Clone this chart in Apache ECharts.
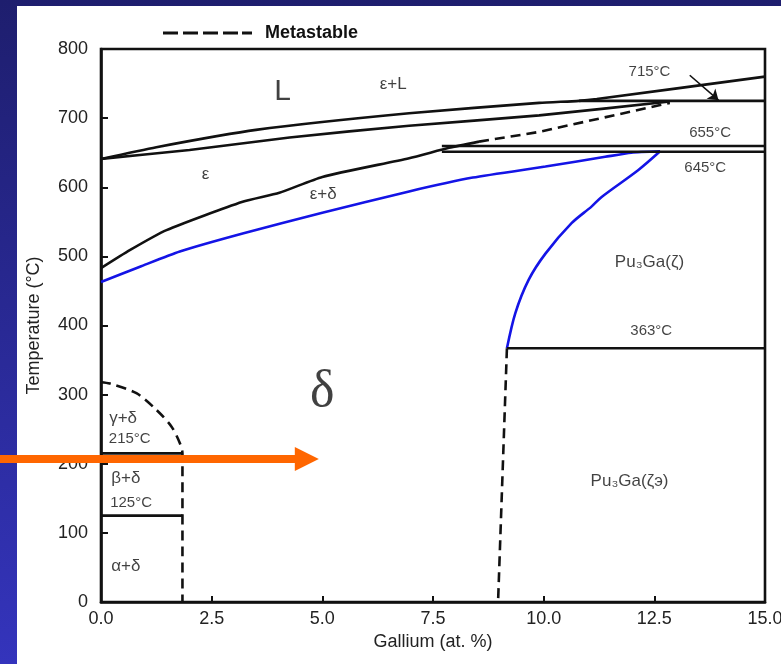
<!DOCTYPE html>
<html>
<head>
<meta charset="utf-8">
<script src="https://cdn.jsdelivr.net/npm/echarts@6/dist/echarts.min.js"></script>
<style>
    html, body { margin: 0; padding: 0; }
    #bg {
        position: absolute; left: 0; top: 0; width: 781px; height: 664px;
        background: linear-gradient(to bottom, #1e1e6e, #3434bc);
    }
    #panel {
        position: absolute; left: 17px; top: 6px; width: 764px; height: 658px;
        background: #fff;
    }
    #chart { position: absolute; left: 0; top: 0; width: 781px; height: 664px; }
</style>
</head>
<body>
<div id="bg"></div>
<div id="panel"></div>
<div id="chart"></div>
<script>
'use strict';

/*
 * Pu-Ga phase diagram (Ga-rich side up to 15 at.%)
 */

// phase boundaries, [Ga at.%, T °C]
const liquidus = [[0, 641], [1.25, 658], [3.5, 683], [6.96, 707], [9.9, 722], [10.8, 725], [11.2, 727.6], [15, 760]];
const epsSolidus = [[0, 641], [2.0, 654], [4.26, 672], [6.96, 689], [9.9, 704], [12.85, 724]];
const epsDelta = [[0, 483], [0.65, 509], [1.48, 538], [3.2, 579], [4.03, 592], [5.0, 615], [6.96, 642], [7.86, 657], [8.54, 666]];
const metastableTop = [[8.54, 666], [9.89, 680], [12.85, 722]];
const deltaSolvus = [[0, 463], [0.88, 485], [1.78, 507], [3.2, 533], [5.0, 563], [6.96, 594], [8.4, 614], [10.04, 630], [11.39, 644], [11.98, 650], [12.63, 652]];
const zetaBoundary = [[9.17, 367], [9.36, 418], [9.66, 466], [10.04, 504], [10.63, 548], [11.08, 572], [11.31, 586], [12.14, 625], [12.63, 652]];
const gammaDelta = [[0, 318], [0.2, 316], [0.8, 302], [1.25, 278], [1.59, 254], [1.78, 230], [1.84, 215], [1.84, 0]];
const zetaMetastable = [[9.17, 367], [8.97, 0]];

// isotherms
const iso715 = [[10.8, 725], [15, 725]];
const iso655 = [[7.7, 659.6], [15, 659.6]];
const iso645 = [[7.7, 651.4], [15, 651.4]];
const iso363 = [[9.17, 367], [15, 367]];
const iso215 = [[0, 215], [1.84, 215]];
const iso125 = [[0, 125], [1.84, 125]];

// annotations
const pointer715 = [[13.3, 762], [13.95, 726]];
const orangeArrow = [[-2.3, 207], [4.65, 207]];

const bigLabels = [[4.1, 738, 'L']];
const deltaLabel = [[5.0, 304, 'δ']];
const phaseLabels = [
    [6.6, 749, 'ε+L'], [2.36, 618, 'ε'], [5.02, 590, 'ε+δ'],
    [12.39, 492, 'Pu₃Ga(ζ)'], [11.94, 175, 'Pu₃Ga(ζэ)'],
    [0.5, 266, 'γ+δ'], [0.56, 179, 'β+δ'], [0.56, 52, 'α+δ']
];
const tempLabels = [
    [12.39, 767, '715°C'], [13.76, 678, '655°C'], [13.65, 628, '645°C'],
    [12.43, 392, '363°C'], [0.65, 236, '215°C'], [0.68, 143, '125°C']
];

const BLACK = '#111';
const BLUE = '#1414e6';

const solid = (data, color) => ({
    type: 'line', data, symbol: 'none', smooth: 0.2,
    lineStyle: { color, width: 2.6 }, z: 3
});

const dashed = (data, name) => ({
    type: 'line', name, data, symbol: 'none', color: BLACK,
    lineStyle: { color: BLACK, width: 2.6, type: [10, 6] }, z: 3
});

const textSeries = (items, font) => ({
    type: 'scatter', symbolSize: 0.1, itemStyle: { color: 'transparent' },
    data: items.map(d => ({ value: [d[0], d[1]], label: { formatter: d[2] } })),
    label: Object.assign({ show: true, position: 'inside', color: '#111' }, font),
    silent: true, z: 5
});

const chart = echarts.init(document.getElementById('chart'));

chart.setOption({
    animation: false,
    textStyle: { fontFamily: 'Liberation Sans, Arial, sans-serif' },
    grid: {
        left: 101, right: 16, top: 49, bottom: 62,
        outerBoundsMode: 'none', containLabel: false,
        show: true, borderColor: BLACK, borderWidth: 2.6, backgroundColor: 'transparent'
    },
    legend: {
        data: ['Metastable'], left: 158, top: 19, selectedMode: false,
        icon: 'path://M0,0h15v3h-15z M20,0h15v3h-15z M40,0h15v3h-15z M60,0h15v3h-15z M79,0h10v3h-10z',
        itemWidth: 89, itemHeight: 3,
        textStyle: { fontSize: 18, fontWeight: 'bold', color: '#111', padding: [0, 0, 0, 8] }
    },
    xAxis: {
        type: 'value', min: 0, max: 15, interval: 2.5,
        name: 'Gallium (at. %)', nameLocation: 'middle', nameGap: 28,
        nameTextStyle: { fontSize: 18, color: '#222' },
        axisLine: { lineStyle: { color: BLACK, width: 2.6 } },
        axisTick: { inside: true, length: 6, lineStyle: { color: BLACK, width: 2 } },
        axisLabel: { fontSize: 18, color: '#222', margin: 8, formatter: v => v.toFixed(1) },
        splitLine: { show: false }
    },
    yAxis: {
        type: 'value', min: 0, max: 800, interval: 100,
        name: 'Temperature (°C)', nameLocation: 'middle', nameGap: 58,
        nameTextStyle: { fontSize: 18, color: '#222' },
        axisLine: { lineStyle: { color: BLACK, width: 2.6 } },
        axisTick: { inside: true, length: 7, lineStyle: { color: BLACK, width: 2 } },
        axisLabel: { fontSize: 18, color: '#222', margin: 13 },
        splitLine: { show: false }
    },
    series: [
        solid(liquidus, BLACK),
        solid(epsSolidus, BLACK),
        solid(epsDelta, BLACK),
        solid(deltaSolvus, BLUE),
        Object.assign(solid(zetaBoundary, BLUE), { smooth: 0.3 }),
        solid(iso715, BLACK),
        solid(iso655, BLACK),
        solid(iso645, BLACK),
        solid(iso363, BLACK),
        solid(iso215, BLACK),
        solid(iso125, BLACK),
        dashed(metastableTop, 'Metastable'),
        Object.assign(dashed(gammaDelta, 'Metastable'), { smooth: 0.3 }),
        dashed(zetaMetastable, 'Metastable'),
        {
            type: 'lines', coordinateSystem: 'cartesian2d', clip: false, silent: true,
            symbol: ['none', 'arrow'], symbolSize: 10,
            lineStyle: { color: BLACK, width: 1.6, opacity: 1 },
            data: [{ coords: pointer715 }], z: 4
        },
        {
            type: 'lines', coordinateSystem: 'cartesian2d', clip: false, silent: true,
            symbol: ['none', 'triangle'], symbolSize: 24,
            lineStyle: { color: '#ff6600', width: 8, opacity: 1 },
            data: [{ coords: orangeArrow }], z: 10
        },
        textSeries(bigLabels, { fontSize: 30 }),
        textSeries(deltaLabel, { fontSize: 52, fontFamily: 'Liberation Serif, serif' }),
        textSeries(phaseLabels, { fontSize: 17 }),
        textSeries(tempLabels, { fontSize: 15 })
    ]
});
</script>
</body>
</html>
